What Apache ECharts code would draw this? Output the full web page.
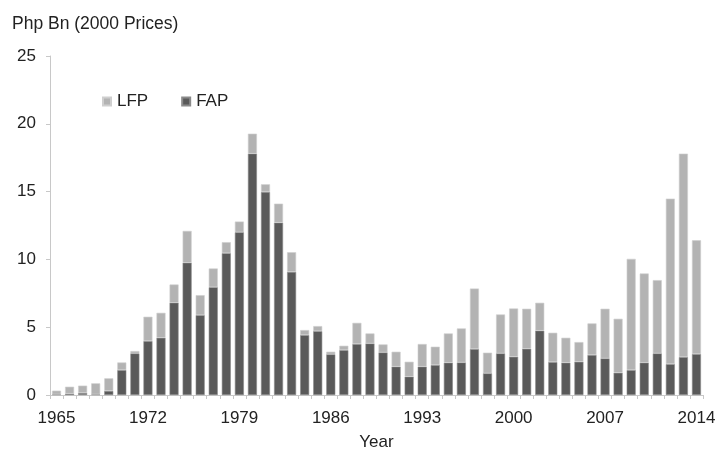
<!DOCTYPE html>
<html>
<head>
<meta charset="utf-8">
<script src="https://cdn.jsdelivr.net/npm/echarts@6/dist/echarts.min.js"></script>
<style>html,body{margin:0;padding:0;background:#fff}#c{width:716px;height:450px}</style>
</head>
<body>
<div id="c"></div>
<script>
const years = [];
for (let y = 1965; y <= 2014; y++) years.push(String(y));
const fap = [0.05,0.1,0.15,0.05,0.3,1.84,3.07,3.98,4.22,6.8,9.75,5.89,7.95,10.46,12.0,17.8,
  14.97,12.71,9.08,4.42,4.71,3.0,3.31,3.76,3.8,3.14,2.09,1.35,2.09,2.21,2.38,2.4,3.39,
  1.6,3.07,2.82,3.41,4.74,2.43,2.38,2.45,2.95,2.7,1.64,1.84,2.38,3.07,2.28,2.8,3.02];
const total = [0.32,0.61,0.69,0.86,1.23,2.4,3.24,5.77,6.06,8.15,12.1,7.36,9.33,11.27,12.79,19.27,
  15.54,14.11,10.53,4.79,5.08,3.19,3.63,5.32,4.54,3.73,3.19,2.45,3.76,3.56,4.54,4.91,7.85,
  3.12,5.94,6.38,6.36,6.8,4.59,4.22,3.9,5.28,6.36,5.62,10.04,8.96,8.47,14.48,17.8,11.41];
const lfp = total.map((t, i) => Math.round((t - fap[i]) * 100) / 100);
const yTicks = [0, 5, 10, 15, 20, 25];

const chart = echarts.init(document.getElementById('c'));
const font = 'Liberation Sans, Arial, sans-serif';
chart.setOption({
  animation: false,
  textStyle: { fontFamily: font },
  title: { text: 'Php Bn (2000 Prices)', left: 7, top: 10,
    textStyle: { fontSize: 17.5, fontWeight: 'normal', color: '#222', fontFamily: font } },
  legend: { left: 97, top: 88, itemWidth: 8, itemHeight: 8, itemGap: 33,
    textStyle: { fontSize: 17, color: '#222', padding: [0, 0, 0, 1] },
    data: [{ name: 'LFP', icon: 'rect' }, { name: 'FAP', icon: 'rect' }] },
  grid: { left: 50, right: 13, top: 56, bottom: 55, containLabel: false, outerBoundsMode: 'none' },
  xAxis: {
    type: 'category', data: years, name: 'Year', nameLocation: 'middle', nameGap: 39,
    nameTextStyle: { fontSize: 17, color: '#222' },
    axisLine: { lineStyle: { color: '#c8c8c8' } },
    axisTick: { show: true, interval: 0, length: 4, lineStyle: { color: '#c8c8c8' } },
    axisLabel: { interval: 6, fontSize: 17, color: '#222', margin: 15 }
  },
  yAxis: {
    type: 'value', min: 0, max: 25, interval: 5,
    axisLine: { show: true, lineStyle: { color: '#c8c8c8' } },
    axisTick: { show: true, length: 4, lineStyle: { color: '#c8c8c8' } },
    splitLine: { show: false },
    axisLabel: { fontSize: 17, color: '#222', margin: 14,
      formatter: v => yTicks.includes(v) ? String(v) : '' }
  },
  series: [
    { name: 'FAP', type: 'bar', stack: 'a', data: fap, barWidth: 9,
      itemStyle: { color: '#5a5a5a', borderColor: '#8a8a8a', borderWidth: 0.6 } },
    { name: 'LFP', type: 'bar', stack: 'a', data: lfp, barWidth: 9,
      itemStyle: { color: '#b3b3b3', borderColor: '#cfcfcf', borderWidth: 0.6 } }
  ]
});
</script>
</body>
</html>
